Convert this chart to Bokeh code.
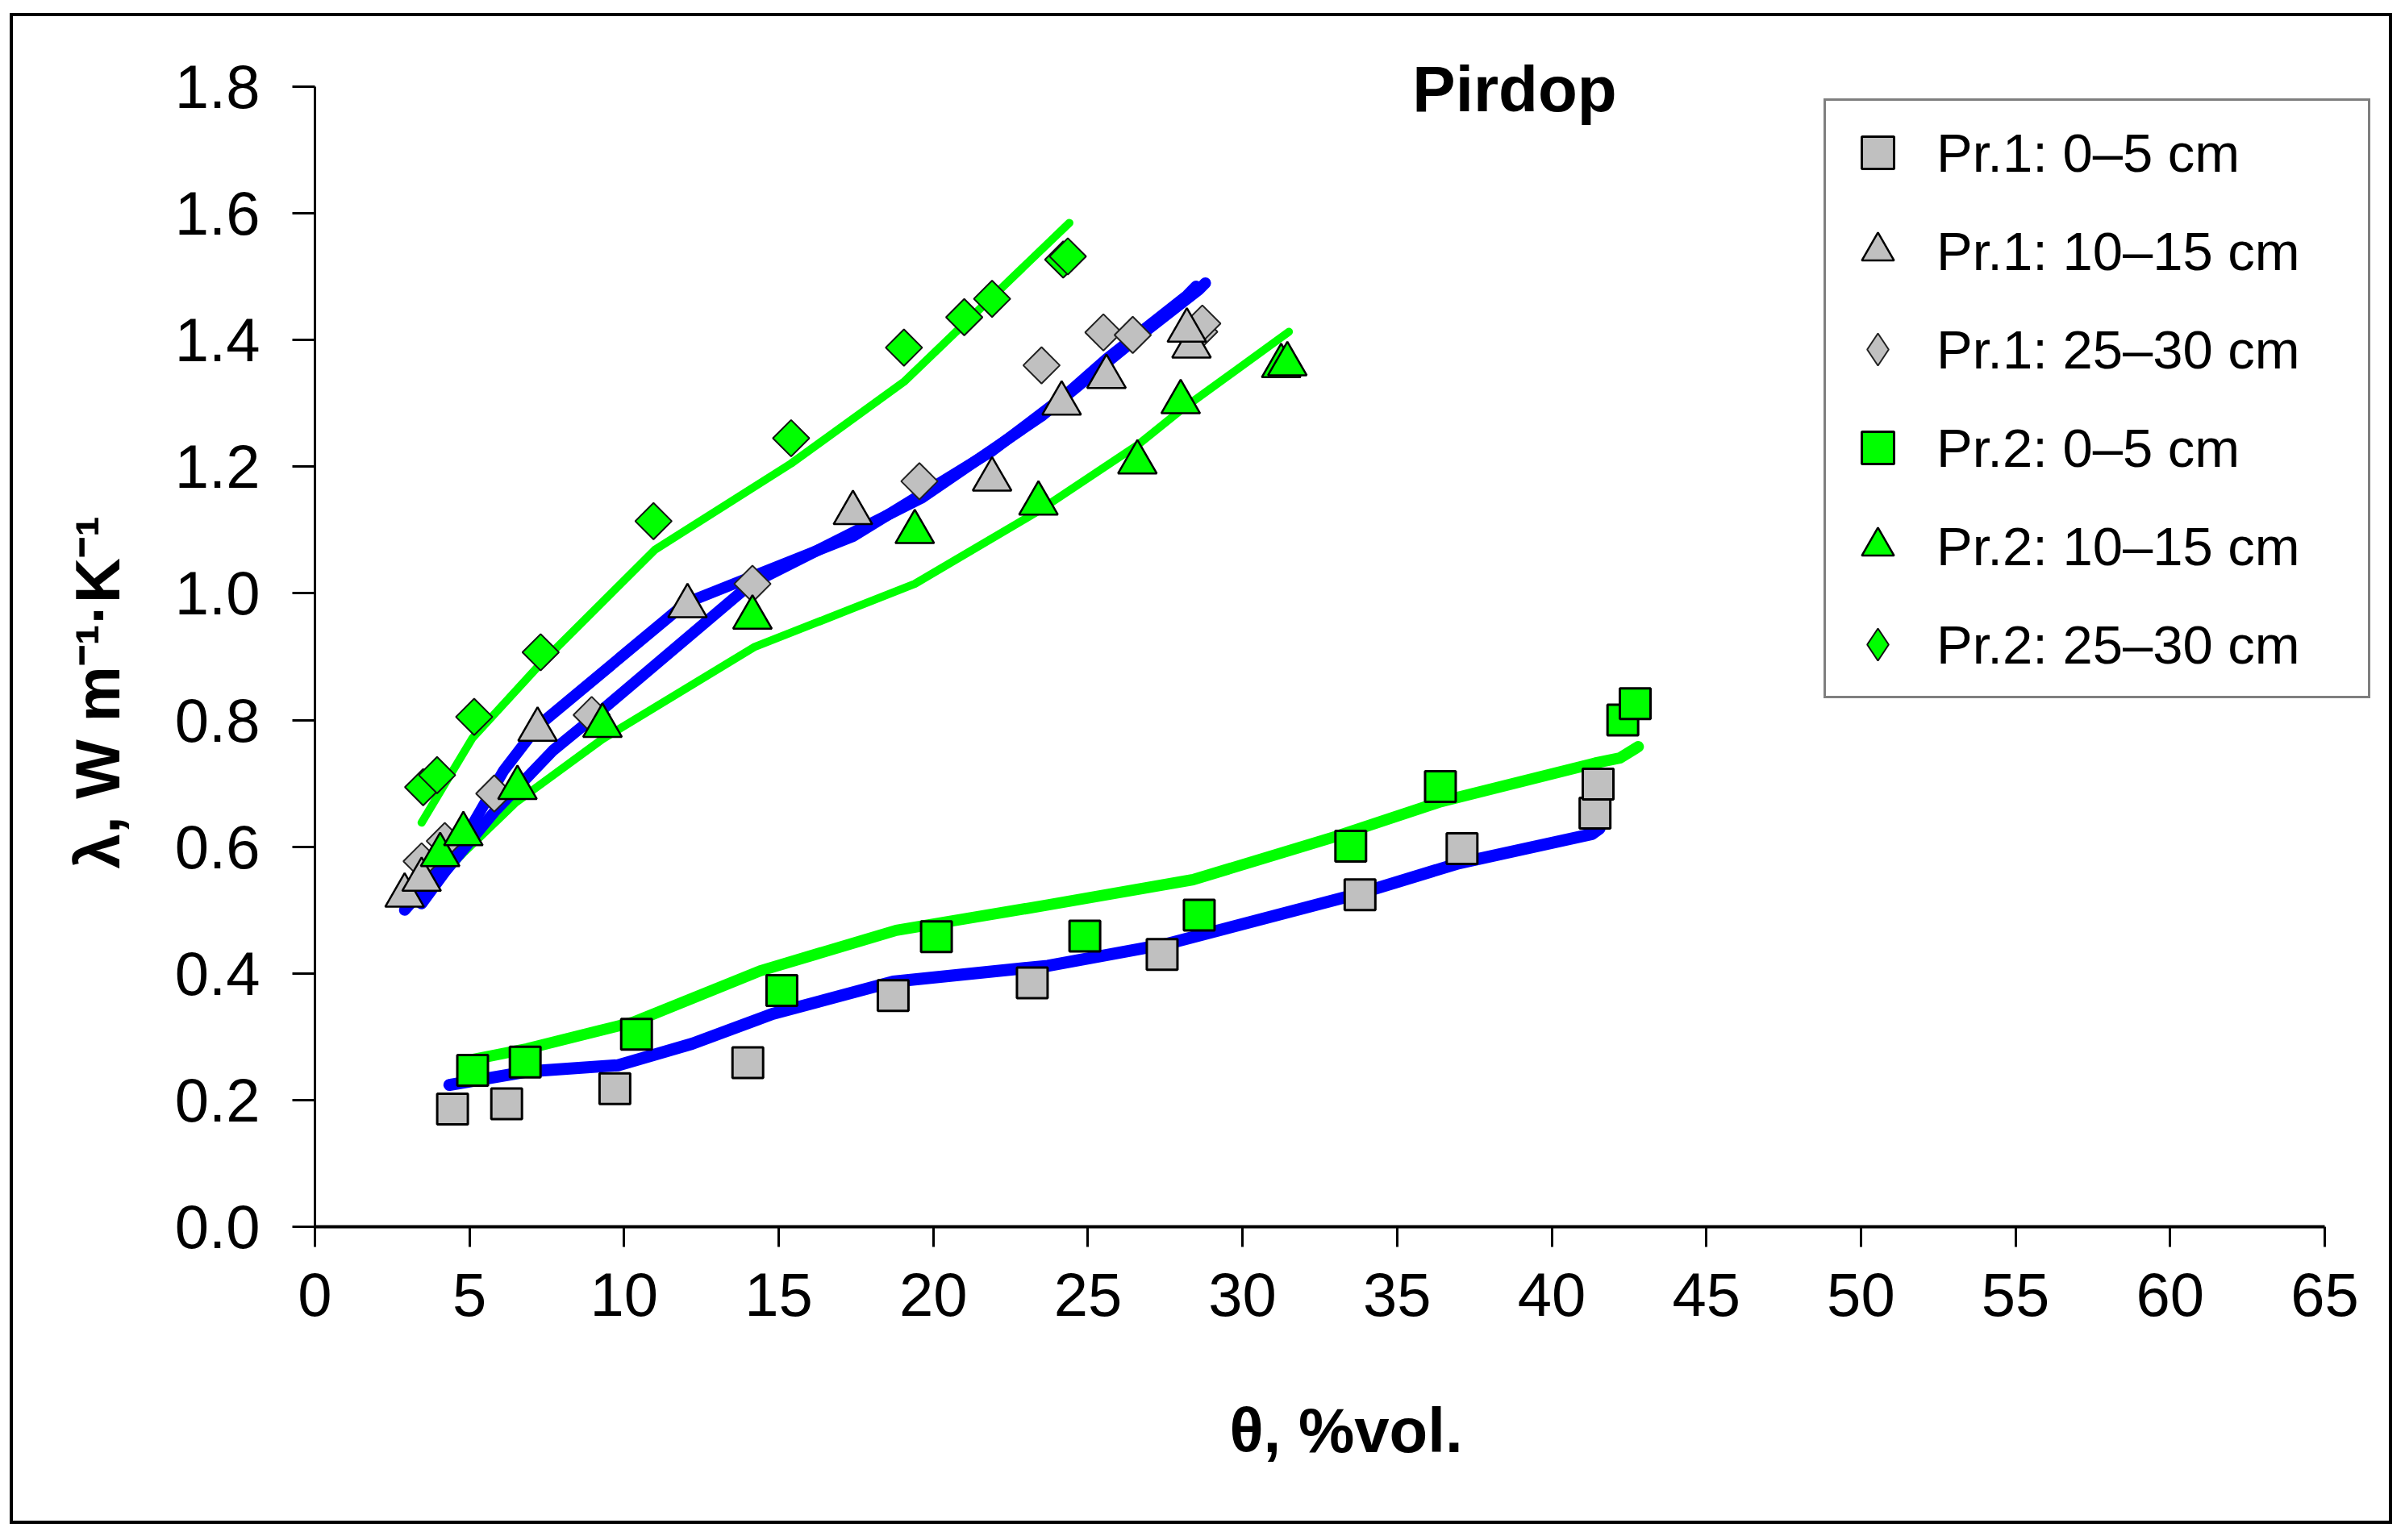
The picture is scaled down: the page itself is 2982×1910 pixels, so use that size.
from bokeh.plotting import figure
from bokeh.models import Range1d, FixedTicker, PrintfTickFormatter, Legend, LegendItem, Label, Title
from bokeh.embed import file_html
from bokeh.resources import INLINE

# measured points: theta (%vol) and lambda (W m-1 K-1)
pr1_0_5_x = [4.45, 6.2, 9.7, 14.0, 18.7, 23.2, 27.4, 33.8, 37.1, 41.4, 41.5]
pr1_0_5_y = [0.186, 0.194, 0.218, 0.259, 0.365, 0.385, 0.430, 0.524, 0.597, 0.653, 0.699]

pr1_10_15_x = [2.9, 3.45, 7.2, 12.05, 17.4, 21.9, 24.15, 25.6, 28.35, 28.2]
pr1_10_15_y = [0.523, 0.548, 0.785, 0.980, 1.127, 1.180, 1.300, 1.342, 1.390, 1.415]

pr1_25_30_x = [3.45, 4.2, 5.8, 8.95, 14.15, 19.55, 23.5, 25.5, 26.45, 28.6, 28.7]
pr1_25_30_y = [0.577, 0.609, 0.684, 0.808, 1.015, 1.177, 1.360, 1.412, 1.408, 1.413, 1.426]

pr2_0_5_x = [5.1, 6.8, 10.4, 15.1, 20.1, 24.9, 28.6, 33.5, 36.4, 42.3, 42.7]
pr2_0_5_y = [0.247, 0.260, 0.304, 0.373, 0.458, 0.459, 0.492, 0.601, 0.695, 0.800, 0.826]

pr2_10_15_x = [4.05, 4.8, 6.55, 9.3, 14.15, 19.4, 23.4, 26.6, 28.0, 31.25, 31.45]
pr2_10_15_y = [0.587, 0.620, 0.693, 0.791, 0.962, 1.097, 1.142, 1.207, 1.302, 1.359, 1.362]

pr2_25_30_x = [3.5, 3.95, 5.15, 7.3, 10.95, 15.4, 19.05, 21.0, 21.9, 24.2, 24.35]
pr2_25_30_y = [0.694, 0.713, 0.805, 0.907, 1.114, 1.245, 1.388, 1.436, 1.465, 1.527, 1.532]

# model curves
fit1_0_5_x = [4.35, 6.85, 9.8, 12.2, 14.8, 18.7, 23.7, 27.5, 33.7, 37.0, 41.3, 41.55]
fit1_0_5_y = [0.224, 0.245, 0.255, 0.289, 0.336, 0.387, 0.412, 0.446, 0.525, 0.574, 0.620, 0.629]

fit1_10_15_x = [2.9, 3.45, 4.8, 6.1, 7.2, 12.0, 17.4, 21.9, 24.2, 25.6, 28.2, 28.5]
fit1_10_15_y = [0.50, 0.53, 0.61, 0.72, 0.79, 0.985, 1.09, 1.225, 1.31, 1.37, 1.47, 1.485]

fit1_25_30_x = [3.45, 4.2, 5.8, 7.7, 8.9, 14.1, 19.6, 23.5, 25.5, 26.5, 28.6, 28.8]
fit1_25_30_y = [0.51, 0.56, 0.655, 0.752, 0.80, 1.015, 1.15, 1.28, 1.36, 1.40, 1.48, 1.49]

fit2_0_5_x = [5.1, 6.85, 10.3, 14.4, 18.8, 23.7, 28.4, 33.0, 36.4, 41.4, 42.2, 42.8]
fit2_0_5_y = [0.264, 0.281, 0.323, 0.404, 0.468, 0.508, 0.548, 0.616, 0.671, 0.732, 0.740, 0.758]

fit2_10_15_x = [3.95, 4.8, 6.5, 9.3, 14.2, 19.4, 23.4, 26.6, 28.0, 31.5]
fit2_10_15_y = [0.547, 0.59, 0.67, 0.77, 0.915, 1.015, 1.13, 1.234, 1.289, 1.413]

fit2_25_30_x = [3.45, 5.1, 7.3, 11.0, 15.4, 19.05, 24.4]
fit2_25_30_y = [0.638, 0.772, 0.889, 1.069, 1.205, 1.334, 1.585]

x_ticks = list(range(0, 70, 5))
y_ticks = [0.0, 0.2, 0.4, 0.6, 0.8, 1.0, 1.2, 1.4, 1.6, 1.8]

FONT = "Liberation Sans"
GREY = "#c0c0c0"
GREEN = "#00ff00"
BLUE = "#0000ff"

# frame runs a little past 65 and 1.8 so legend and "Pirdop" are not clipped;
# the axes themselves stop at 65 and 1.8
p = figure(frame_width=2557, frame_height=1469,
           min_border_left=374, min_border_right=15,
           min_border_top=32, min_border_bottom=365,
           x_range=Range1d(0, 66.697), y_range=Range1d(0, 1.870),
           output_backend="svg", toolbar_location=None, tools="")
p.styles = {"border": "4px solid black", "margin-left": "12px", "margin-top": "16px"}
p.outline_line_color = None
p.xgrid.grid_line_color = None
p.ygrid.grid_line_color = None
p.background_fill_color = "white"
p.border_fill_color = "white"

# fitted lines first, markers on top
p.line(fit1_0_5_x, fit1_0_5_y, line_color=BLUE, line_width=15, line_cap="round", line_join="round")
p.line(fit2_0_5_x, fit2_0_5_y, line_color=GREEN, line_width=14, line_cap="round", line_join="round")
p.line(fit2_25_30_x, fit2_25_30_y, line_color=GREEN, line_width=10, line_cap="round", line_join="round")
p.line(fit2_10_15_x, fit2_10_15_y, line_color=GREEN, line_width=10, line_cap="round", line_join="round")
p.line(fit1_10_15_x, fit1_10_15_y, line_color=BLUE, line_width=14, line_cap="round", line_join="round")
p.line(fit1_25_30_x, fit1_25_30_y, line_color=BLUE, line_width=14, line_cap="round", line_join="round")

r1 = p.scatter(pr1_0_5_x, pr1_0_5_y, marker="square", size=38, fill_color=GREY, line_color="black", line_width=3)
r4 = p.scatter(pr2_0_5_x, pr2_0_5_y, marker="square", size=38, fill_color=GREEN, line_color="black", line_width=3)
p.scatter(pr1_25_30_x, pr1_25_30_y, marker="square", angle=0.7854, size=32, fill_color=GREY, line_color="#222222", line_width=2)
p.scatter(pr2_25_30_x, pr2_25_30_y, marker="square", angle=0.7854, size=32, fill_color=GREEN, line_color="#111111", line_width=2)
r2 = p.scatter(pr1_10_15_x, pr1_10_15_y, marker="triangle", size=48, fill_color=GREY, line_color="black", line_width=2.5)
r5 = p.scatter(pr2_10_15_x, pr2_10_15_y, marker="triangle", size=48, fill_color=GREEN, line_color="black", line_width=2.5)

# hidden diamond renderers only supply the legend glyphs
r3 = p.scatter(pr1_25_30_x, pr1_25_30_y, marker="diamond", fill_color=GREY, line_color="#222222", line_width=2, visible=False)
r6 = p.scatter(pr2_25_30_x, pr2_25_30_y, marker="diamond", fill_color=GREEN, line_color="#111111", line_width=2, visible=False)

legend = Legend(items=[
    LegendItem(label="Pr.1: 0\u20135 cm", renderers=[r1]),
    LegendItem(label="Pr.1: 10\u201315 cm", renderers=[r2]),
    LegendItem(label="Pr.1: 25\u201330 cm", renderers=[r3]),
    LegendItem(label="Pr.2: 0\u20135 cm", renderers=[r4]),
    LegendItem(label="Pr.2: 10\u201315 cm", renderers=[r5]),
    LegendItem(label="Pr.2: 25\u201330 cm", renderers=[r6]),
], location=(1871, 655))
legend.label_text_font = FONT
legend.label_text_font_size = "67px"
legend.label_text_color = "black"
legend.glyph_width = 100
legend.glyph_height = 100
legend.label_height = 100
legend.spacing = 22
legend.padding = 14
legend.label_standoff = 23
legend.label_width = 521
legend.border_line_color = "black"
legend.border_line_width = 3
legend.background_fill_alpha = 1.0
legend.inactive_fill_alpha = 0.0
legend.click_policy = "none"
p.add_layout(legend)

p.xaxis.ticker = FixedTicker(ticks=x_ticks)
p.xaxis.bounds = (0, 65)
p.yaxis.ticker = FixedTicker(ticks=y_ticks)
p.yaxis.bounds = (0, 1.8)
p.yaxis.formatter = PrintfTickFormatter(format="%.1f")
for ax in (p.xaxis, p.yaxis):
    ax.major_label_text_font = FONT
    ax.major_label_text_font_size = "76px"
    ax.major_label_text_color = "black"
    ax.axis_line_color = "black"
    ax.major_tick_line_color = "black"
    ax.major_tick_in = 0
    ax.minor_tick_line_color = None

p.xaxis.axis_line_width = 4
p.xaxis.major_tick_line_width = 3
p.xaxis.major_tick_out = 25
p.xaxis.major_label_standoff = 32
p.xaxis.axis_label = "\u03b8, %vol."
p.xaxis.axis_label_standoff = 95
p.xaxis.axis_label_text_font = FONT
p.xaxis.axis_label_text_font_size = "78px"
p.xaxis.axis_label_text_font_style = "bold"
p.xaxis.axis_label_text_color = "black"

p.yaxis.axis_line_width = 3
p.yaxis.major_tick_line_width = 3
p.yaxis.major_tick_out = 28
p.yaxis.major_label_standoff = 40

# y title as a side title so it can sit lower than the frame centre
ytitle = Title(text="\u03bb, W m\u207b\u00b9\u00b7K\u207b\u00b9", align="left", offset=444,
               text_font=FONT, text_font_size="78px", text_font_style="bold",
               text_color="black", standoff=98)
p.add_layout(ytitle, "left")

p.add_layout(Label(x=38.8, y=1.796, text="Pirdop", text_align="center",
                   text_baseline="alphabetic", text_font=FONT,
                   text_font_size="80px", text_font_style="bold", text_color="black"))

open("out.html", "w").write(file_html(p, INLINE))
